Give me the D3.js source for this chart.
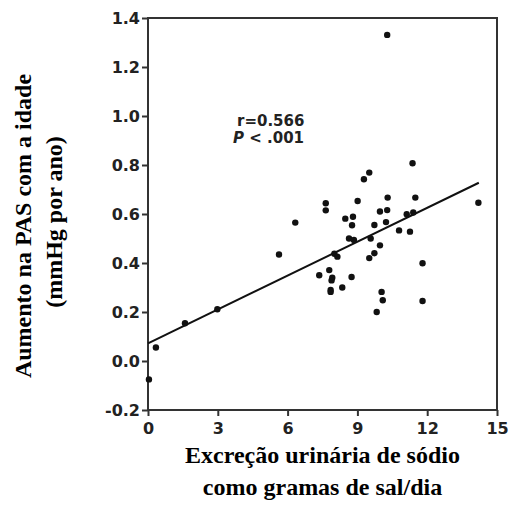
<!DOCTYPE html>
<html>
<head>
<meta charset="utf-8">
<script src="https://cdn.jsdelivr.net/npm/d3@7"></script>
<style>
body { margin: 0; background: #fff; }
</style>
</head>
<body>
<script>
// sodium excretion (g salt/day) vs rise in SBP with age (mmHg/yr)
var saltX = [0.04, 0.34, 1.59, 2.98, 5.63, 6.33, 7.64, 7.64, 9.51, 9.28,
    11.37, 10.28, 9.01, 10.30, 11.49, 9.97, 10.28, 8.48, 8.81, 8.77,
    9.73, 10.23, 11.12, 11.40, 10.79, 11.26, 8.64, 8.85, 9.57, 9.97,
    9.73, 9.51, 8.01, 8.14, 7.79, 7.36, 7.92, 7.89, 8.75, 8.35,
    7.85, 7.85, 11.80, 10.04, 10.09, 11.80, 9.83, 14.2];
var sbpRise = [-0.075, 0.055, 0.154, 0.211, 0.435, 0.565, 0.644, 0.615, 0.769, 0.742,
    0.807, 1.331, 0.653, 0.667, 0.667, 0.61, 0.616, 0.581, 0.589, 0.554,
    0.555, 0.567, 0.599, 0.606, 0.533, 0.528, 0.50, 0.494, 0.50, 0.472,
    0.44, 0.42, 0.438, 0.426, 0.371, 0.35, 0.34, 0.329, 0.343, 0.30,
    0.29, 0.282, 0.399, 0.282, 0.248, 0.245, 0.20, 0.646];

var fitIntercept = 0.072;
var fitSlope = 0.0461;
var fitRange = [0, 14.22];

var xTicks = [0, 3, 6, 9, 12, 15];
var yTicks = [-0.2, 0, 0.2, 0.4, 0.6, 0.8, 1.0, 1.2, 1.4];
var yTickLabels = ["-0.2", "0.0", "0.2", "0.4", "0.6", "0.8", "1.0", "1.2", "1.4"];

var width = 509, height = 508;
var plotLeft = 148, plotRight = 497, plotTop = 18, plotBottom = 410;

var svg = d3.select("body")
    .append("svg")
    .attr("width", width)
    .attr("height", height);

var x = d3.scaleLinear().domain([0, 15]).range([plotLeft, plotRight]);
var y = d3.scaleLinear().domain([-0.2, 1.4]).range([plotBottom, plotTop]);

var tickFont = "'DejaVu Sans', sans-serif";

svg.append("g")
    .attr("transform", "translate(" + plotLeft + ",0)")
    .call(d3.axisLeft(y)
        .tickValues(yTicks)
        .tickSize(6)
        .tickSizeOuter(0)
        .tickPadding(2)
        .tickFormat(function(d, i) { return yTickLabels[i]; }));

svg.append("g")
    .attr("transform", "translate(0," + plotBottom + ")")
    .call(d3.axisBottom(x)
        .tickValues(xTicks)
        .tickSize(6)
        .tickSizeOuter(0)
        .tickPadding(7));

svg.selectAll(".tick line")
    .attr("stroke", "#333")
    .attr("stroke-width", 2);
svg.selectAll(".domain").remove();
svg.selectAll(".tick text")
    .attr("font-family", tickFont)
    .attr("font-weight", "bold")
    .attr("font-size", 16)
    .attr("fill", "#222");

// frame
svg.append("rect")
    .attr("x", plotLeft)
    .attr("y", plotTop)
    .attr("width", plotRight - plotLeft)
    .attr("height", plotBottom - plotTop)
    .attr("fill", "none")
    .attr("stroke", "#333")
    .attr("stroke-width", 2);

// regression line
svg.append("line")
    .attr("x1", x(fitRange[0]))
    .attr("y1", y(fitIntercept + fitSlope * fitRange[0]))
    .attr("x2", x(fitRange[1]))
    .attr("y2", y(fitIntercept + fitSlope * fitRange[1]))
    .attr("stroke", "#111")
    .attr("stroke-width", 2);

for (var i = 0; i < saltX.length; i++) {
    svg.append("circle")
        .attr("cx", x(saltX[i]))
        .attr("cy", y(sbpRise[i]))
        .attr("r", 3.2)
        .attr("fill", "#111");
}

// stats
svg.append("text")
    .attr("x", 237)
    .attr("y", 126)
    .attr("font-family", tickFont)
    .attr("font-weight", "bold")
    .attr("font-size", 15)
    .attr("fill", "#222")
    .text("r=0.566");

var p = svg.append("text")
    .attr("x", 233)
    .attr("y", 143)
    .attr("font-family", tickFont)
    .attr("font-weight", "bold")
    .attr("font-size", 15)
    .attr("fill", "#222");
p.append("tspan").attr("font-style", "italic").text("P");
p.append("tspan").text(" < .001");

// axis titles
var titleFont = "'Liberation Serif', 'Times New Roman', serif";

svg.append("text")
    .attr("x", (plotLeft + plotRight) / 2)
    .attr("y", 463)
    .attr("text-anchor", "middle")
    .attr("font-family", titleFont)
    .attr("font-weight", "bold")
    .attr("font-size", 24)
    .text("Excreção urinária de sódio");

svg.append("text")
    .attr("x", (plotLeft + plotRight) / 2)
    .attr("y", 495)
    .attr("text-anchor", "middle")
    .attr("font-family", titleFont)
    .attr("font-weight", "bold")
    .attr("font-size", 24)
    .text("como gramas de sal/dia");

svg.append("text")
    .attr("transform", "translate(31,226) rotate(-90)")
    .attr("text-anchor", "middle")
    .attr("font-family", titleFont)
    .attr("font-weight", "bold")
    .attr("font-size", 24)
    .text("Aumento na PAS com a idade");

svg.append("text")
    .attr("transform", "translate(62,222) rotate(-90)")
    .attr("text-anchor", "middle")
    .attr("font-family", titleFont)
    .attr("font-weight", "bold")
    .attr("font-size", 24)
    .text("(mmHg por ano)");
</script>
</body>
</html>
